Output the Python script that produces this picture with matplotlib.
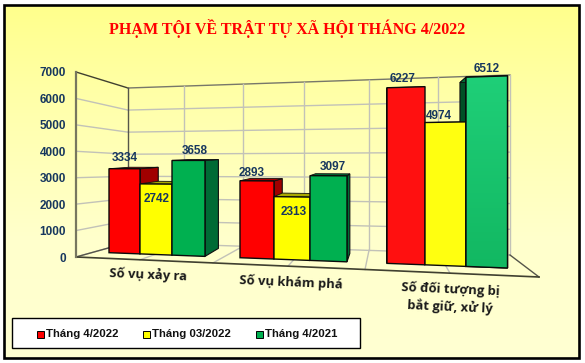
import numpy as np
import matplotlib
matplotlib.use("Agg")
import matplotlib.pyplot as plt
from matplotlib.colors import LinearSegmentedColormap
from matplotlib.patches import Polygon, Rectangle

categories = ["Số vụ xảy ra", "Số vụ khám phá", "Số đối tượng bị\nbắt giữ, xử lý"]
series_names = ["Tháng 4/2022", "Tháng 03/2022", "Tháng 4/2021"]
thang_4_2022 = [3334, 2893, 6227]
thang_3_2022 = [2742, 2313, 4974]
thang_4_2021 = [3658, 3097, 6512]
y_ticks = [0, 1000, 2000, 3000, 4000, 5000, 6000, 7000]

NAVY = "#17375e"
face = ["#ff0000", "#ffff00", "#00b050"]
face3 = ["#ff1010", "#ffff10", "#18c068"]
side = ["#a00000", "#a8a800", "#006b35"]

# bar edges in pixels, one row per group
bar_edges = [[109, 140, 172, 205], [240, 274, 310, 347], [387, 425, 466, 507.5]]
label_off = [[(16, -11), (16.5, 15), (23, -9)],
             [(12, -8), (20, 15), (23, -9)],
             [(16, -9), (14, -7), (21, -8)]]

fig = plt.figure(figsize=(5.85, 3.63), dpi=100)
ax = fig.add_axes([0, 0, 1, 1])
ax.set_xlim(0, 585)
ax.set_ylim(363, 0)
ax.axis("off")


def base_y(x):
    return 252.7 + (x - 109) * 0.0384


def top_y(x, v):
    return base_y(x) - v * (0.0252 + (x - 109) * 0.0000108)


def back(x, y):
    # push a point towards the vanishing point
    return (x + 0.0745 * (385 - x), y + 0.0745 * (149 - y))


# background and frame
bg = LinearSegmentedColormap.from_list("bg", ["#ffff8c", "#ffffb0", "#ffffcc", "#ffffd2"])
ax.imshow(np.linspace(0, 1, 256).reshape(-1, 1), cmap=bg, aspect="auto",
          extent=(4, 579, 358, 5), zorder=0)
ax.set_xlim(0, 585)
ax.set_ylim(363, 0)
ax.add_patch(Rectangle((4, 5), 575, 353, fill=False, ec="black", lw=1.9, zorder=1))

ax.text(287.5, 28, "PHẠM TỘI VỀ TRẬT TỰ XÃ HỘI THÁNG 4/2022", color="#ff0000",
        family="Liberation Serif", weight="bold", fontsize=11.5, ha="center", va="center")

# walls and floor
GRID = "#c2c2b8"
for t in y_ticks:
    yf = 257 - t * 185 / 7000
    yb = 242.5 - t * 154.5 / 7000
    yr = 255 - t * 180 / 7000
    col = "#404030" if t == 7000 else GRID
    ax.plot([76, 128], [yf, yb], color=col, lw=1.0, zorder=2)
    ax.plot([128, 510], [yb, yr], color="#77776a" if t == 7000 else GRID, lw=1.0, zorder=2)
    ax.text(66, yf + 1.5, str(t), color=NAVY, family="Liberation Sans", weight="bold",
            fontsize=8.5, ha="right", va="center")

back_x = [128, 184, 243, 304, 369, 438, 510]
front_x = [76, 140, 213, 288, 365, 450, 539]
for i, (bx, fx) in enumerate(zip(back_x, front_x)):
    yb = 242.5 + (bx - 128) * 12.5 / 382
    yt = 88 - (bx - 128) * 13 / 382
    yf = 257 + (fx - 76) * 20 / 463
    ax.plot([bx, bx], [yt, yb], color="#55554a" if i == 0 else GRID, lw=1.0, zorder=2)
    ax.plot([bx, fx], [yb, yf], color="#55554a" if i in (0, 6) else GRID, lw=1.0, zorder=2)
ax.plot([76, 539], [257, 277], color="#404030", lw=1.2, zorder=2)
ax.plot([76, 76], [72, 257], color="#77775f", lw=1.6, zorder=2)

# bars
values = [thang_4_2022, thang_3_2022, thang_4_2021]
grad = LinearSegmentedColormap.from_list("g3", ["#1fcf78", "#12b862"])
for g in range(3):
    edges = bar_edges[g]
    for s in range(3):
        v = values[s][g]
        x0, x1 = edges[s], edges[s + 1]
        y0, y1 = top_y(x0, v), top_y(x1, v)
        # depth faces first, the fronts cover them later
        xv = x1 if x1 < 385 else x0
        yt = top_y(xv, v)
        yo = base_y(xv)
        ax.add_patch(Polygon([(xv, yt), back(xv, yt), back(xv, yo), (xv, yo)],
                             fc=side[s] if g < 2 or s < 2 else "#005026",
                             ec="#101010", lw=0.8, zorder=3))
        ax.add_patch(Polygon([(x0, y0), (x1, y1), back(x1, y1), back(x0, y0)],
                             fc=side[s], ec="#101010", lw=0.6, zorder=3))
    for s in range(3):
        v = values[s][g]
        x0, x1 = edges[s], edges[s + 1]
        pts = [(x0, top_y(x0, v)), (x1, top_y(x1, v)), (x1, base_y(x1)), (x0, base_y(x0))]
        fc = face3[s] if g == 2 else face[s]
        front = Polygon(pts, fc=fc, ec="#0a0a0a", lw=1.0, zorder=4)
        ax.add_patch(front)
        if g == 2 and s == 2:
            im = ax.imshow(np.linspace(0, 1, 64).reshape(-1, 1), cmap=grad, aspect="auto",
                           extent=(x0, x1, base_y(x1), top_y(x1, v)), zorder=4.5)
            im.set_clip_path(front)
            ax.add_patch(Polygon(pts, fill=False, ec="#0a0a0a", lw=1.0, zorder=4.6))
            ax.set_xlim(0, 585)
            ax.set_ylim(363, 0)
        dx, dy = label_off[g][s]
        ax.text(x0 + dx, top_y(x0, v) + dy, str(v), color=NAVY, family="Liberation Sans",
                weight="bold", fontsize=8.5, ha="center", va="center", zorder=6)

# category labels
cat_pos = [(148, 275, -2.5), (291, 283, -2.5), (450, 298, -2.5)]
for name, (x, y, r) in zip(categories, cat_pos):
    ax.text(x, y, name, color="#1a1a1a", family="Open Sans", weight="bold", fontsize=9.4,
            ha="center", va="center", rotation=r, rotation_mode="anchor", linespacing=1.35)

# legend
ax.add_patch(Rectangle((11.5, 318), 348, 30, fc="white", ec="black", lw=1.0, zorder=5))
leg_x = [37, 143, 256]
for x, name, c in zip(leg_x, series_names, face):
    ax.add_patch(Rectangle((x, 331), 6.5, 6.5, fc=c, ec="black", lw=0.7, zorder=6))
    ax.text(x + 9, 334, name, color="#111111", family="Liberation Sans", weight="bold",
            fontsize=8.2, ha="left", va="center", zorder=6)

fig.savefig("out.png", dpi=100)
